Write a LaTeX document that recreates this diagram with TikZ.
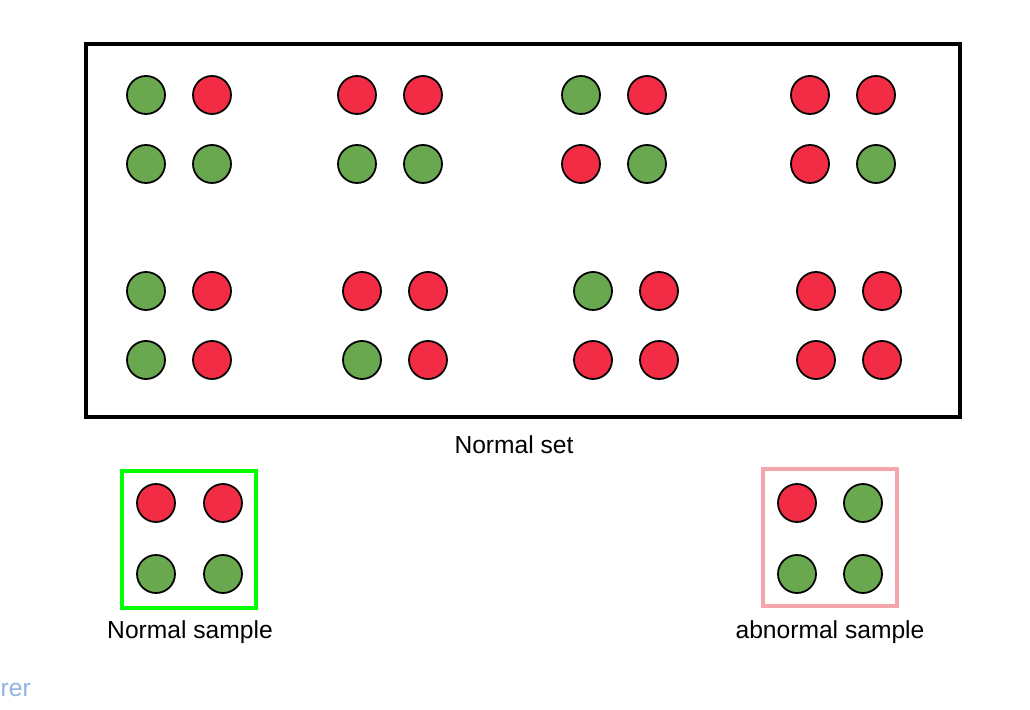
\documentclass[tikz,border=0pt]{standalone}
\usepackage{fontspec}
\setmainfont{Liberation Sans}
\usetikzlibrary{positioning}
\definecolor{dotgreen}{HTML}{6AA84F}
\definecolor{dotred}{HTML}{F22C45}
\definecolor{boxgreen}{HTML}{00FF00}
\definecolor{boxpink}{HTML}{F4A7AA}
\definecolor{linkblue}{HTML}{8FB4E3}
\tikzset{
  dot/.style={circle, draw=black, line width=0.5pt, minimum size=0.38cm, inner sep=0pt},
  lbl/.style={font=\fontsize{7}{8}\selectfont},
}
\begin{document}
\begin{tikzpicture}[x=0.01cm, y=-0.01cm]
\useasboundingbox (0,0) rectangle (1030,710);

% Normal set frame
\draw[line width=1pt] (86,44) rectangle (960,417);
\node[lbl] (setlbl) at (514,445) {Normal set};

% 2x2 groups: x, y, top-left, top-right, bottom-left, bottom-right
\foreach \gx/\gy/\ca/\cb/\cc/\cd [count=\i] in {
  146/95/dotgreen/dotred/dotgreen/dotgreen,
  357/95/dotred/dotred/dotgreen/dotgreen,
  581/95/dotgreen/dotred/dotred/dotgreen,
  810/95/dotred/dotred/dotred/dotgreen,
  146/291/dotgreen/dotred/dotgreen/dotred,
  362/291/dotred/dotred/dotgreen/dotred,
  593/291/dotgreen/dotred/dotred/dotred,
  816/291/dotred/dotred/dotred/dotred} {
  \node[dot, fill=\ca] (g\i a) at (\gx,\gy) {};
  \node[dot, fill=\cb] (g\i b) at (\gx+66,\gy) {};
  \node[dot, fill=\cc] (g\i c) at (\gx,\gy+69) {};
  \node[dot, fill=\cd] (g\i d) at (\gx+66,\gy+69) {};
}

% Normal sample
\draw[boxgreen, line width=1.3pt] (122,471) rectangle (256,608);
\node[dot, fill=dotred] (na) at (156,503) {};
\node[dot, fill=dotred] (nb) at (223,503) {};
\node[dot, fill=dotgreen] (nc) at (156,574) {};
\node[dot, fill=dotgreen] (nd) at (223,574) {};
\node[lbl] (normlbl) at (190,632) {Normal sample};

% abnormal sample
\draw[boxpink, line width=1.3pt] (763,469) rectangle (897,606);
\node[dot, fill=dotred] (aa) at (797,503) {};
\node[dot, fill=dotgreen] (ab) at (863,503) {};
\node[dot, fill=dotgreen] (ac) at (797,574) {};
\node[dot, fill=dotgreen] (ad) at (863,574) {};
\node[lbl] (abnlbl) at (830,632) {abnormal sample};

\node[lbl, text=linkblue, anchor=west, inner sep=0pt] (rer) at (0,690) {rer};
\end{tikzpicture}
\end{document}
